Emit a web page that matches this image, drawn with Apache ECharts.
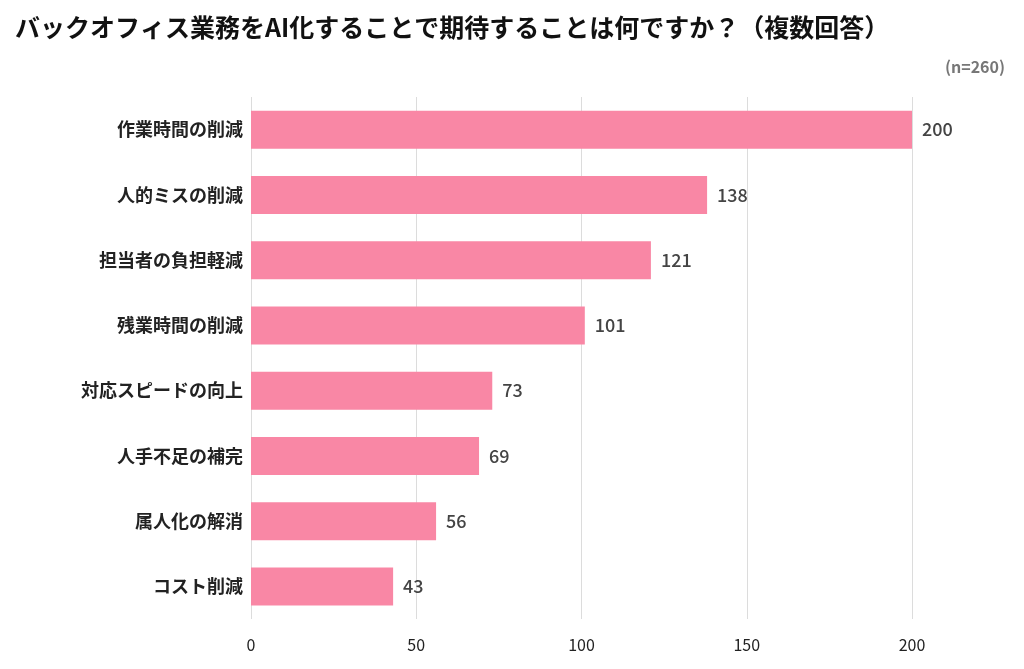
<!DOCTYPE html>
<html><head><meta charset="utf-8">
<script src="https://cdn.jsdelivr.net/npm/echarts@6/dist/echarts.min.js"></script>
<style>html,body{margin:0;background:#fff}#c{width:1024px;height:669px}</style>
</head><body><div id="c"></div>
<script>
const categories = ['作業時間の削減','人的ミスの削減','担当者の負担軽減','残業時間の削減','対応スピードの向上','人手不足の補完','属人化の解消','コスト削減'];
const values = [200,138,121,101,73,69,56,43];
const xTicks = [0,50,100,150,200];

const font = '"Noto Sans CJK JP", "Noto Sans", sans-serif';
let chart = echarts.init(document.getElementById('c'));
chart.setOption({
    textStyle: { fontFamily: font },
    title: [
        { text: 'バックオフィス業務をAI化することで期待することは何ですか？（複数回答）', left: 10, top: 10,
          textStyle: { fontSize: 25, fontWeight: 'bold', color: '#111', fontFamily: font } },
        { text: '(n=260)', right: 14, top: 54, textStyle: { fontSize: 16, fontWeight: 'bold', color: '#777', fontFamily: font } }
    ],
    grid: { left: 251, right: 112, top: 97, bottom: 50 },
    xAxis: {
        type: 'value', min: 0, max: 200, interval: 50,
        axisLine: { show: false }, axisTick: { show: false },
        splitLine: { lineStyle: { color: '#dcdcdc' } },
        axisLabel: { fontSize: 16, color: '#222', margin: 18, fontFamily: font }
    },
    yAxis: {
        type: 'category', data: categories, inverse: true,
        axisLine: { show: false }, axisTick: { show: false },
        axisLabel: { fontSize: 18, fontWeight: 'bold', color: '#222', margin: 8, fontFamily: font }
    },
    series: [{
        type: 'bar', data: values, barWidth: 38,
        itemStyle: { color: '#F987A5' },
        label: { show: true, position: 'right', distance: 10, fontSize: 18, fontWeight: 500, color: '#444', fontFamily: font }
    }]
});
</script></body></html>
